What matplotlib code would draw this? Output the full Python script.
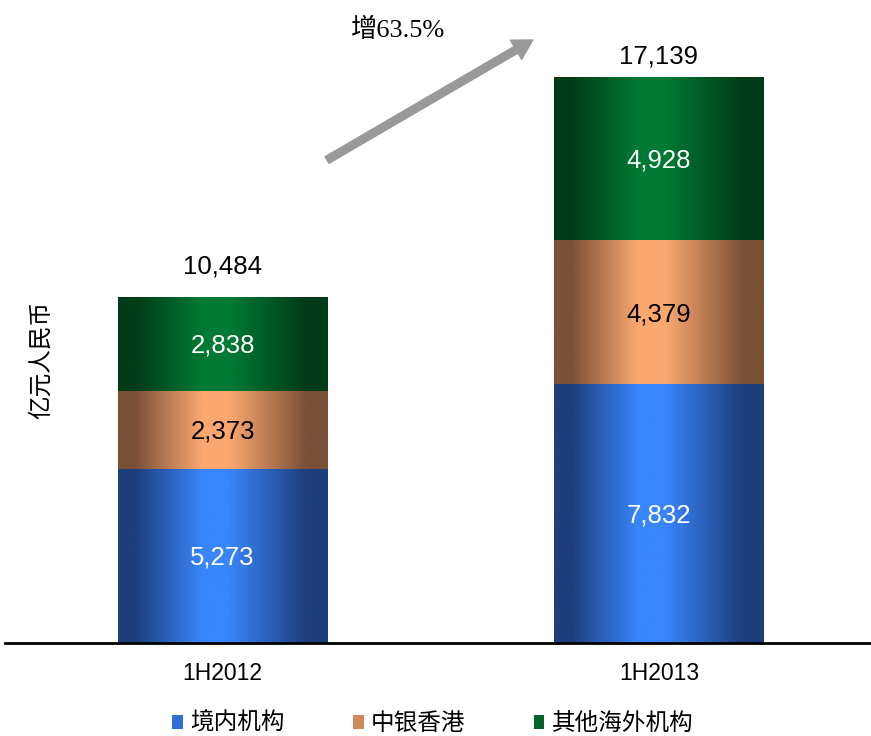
import matplotlib
matplotlib.use("Agg")
import matplotlib.pyplot as plt
import numpy as np
from matplotlib.colors import LinearSegmentedColormap
from matplotlib.patches import Rectangle

plt.rcParams["font.family"] = ["Liberation Sans", "Noto Sans CJK SC", "DejaVu Sans"]

periods = ["1H2012", "1H2013"]
series_names = ["境内机构", "中银香港", "其他海外机构"]
domestic = [5273, 7832]
bochk = [2373, 4379]
overseas = [2838, 4928]
totals = [10484, 17139]
growth_label = "增63.5%"
y_label = "亿元人民币"

series_values = [domestic, bochk, overseas]
dark_colors = ["#1d3e7b", "#7a5037", "#003b17"]
bright_colors = ["#3985fb", "#fba870", "#007a34"]
legend_colors = ["#2f6fd6", "#d08a5a", "#006429"]
label_colors = ["white", "black", "white"]

fig = plt.figure(figsize=(8.71, 7.36), dpi=100)
ax = fig.add_axes([0.006, 1 - 643 / 736, 0.994, 643 / 736])

x = np.arange(len(periods))
width = 0.479
grad = np.linspace(0, 1, 256).reshape(1, -1)

bottoms = np.zeros(len(periods))
for values, dark, bright, tc in zip(series_values, dark_colors, bright_colors, label_colors):
    cmap = LinearSegmentedColormap.from_list(
        "g", [(0, dark), (0.08, dark), (0.4, bright), (0.53, bright), (0.9, dark), (1, dark)]
    )
    for xi, v, b in zip(x, values, bottoms):
        ax.imshow(grad, cmap=cmap, aspect="auto", interpolation="bilinear",
                  extent=[xi - width / 2, xi + width / 2, b, b + v], zorder=2)
        ax.text(xi, b + v / 2 - 60, f"{v:,}", ha="center", va="center",
                color=tc, fontsize=18.5, zorder=3)
    bottoms = bottoms + np.array(values)

for xi, t, off in zip(x, totals, [13, 6]):
    ax.annotate(f"{t:,}", (xi, t), xytext=(0, off), textcoords="offset points",
                ha="center", va="bottom", fontsize=18.5)

ax.set_xlim(-0.498, 1.486)
ax.set_ylim(0, 643 / 0.03302)

ax.annotate("", xy=(0.711, 18262), xytext=(width / 2, 14627),
            arrowprops=dict(facecolor="#999999", edgecolor="#999999",
                            width=5.5, headwidth=16, headlength=14, shrink=0))
ax.text(0.402, 18560, growth_label, ha="center", va="center", fontsize=19,
        family=["Liberation Serif", "Noto Sans CJK SC"])

for s in ["top", "right", "left"]:
    ax.spines[s].set_visible(False)
ax.spines["bottom"].set_linewidth(2)
ax.set_yticks([])
ax.set_xticks(x, periods)
ax.tick_params(axis="x", length=0, pad=14, labelsize=16.5)

handles = [Rectangle((0, 0), 1, 1, facecolor=c, edgecolor="none") for c in legend_colors]
fig.legend(handles, series_names, loc="center", bbox_to_anchor=(0.497, 0.017), ncol=3,
           frameon=False, prop={"family": "Noto Sans CJK SC", "size": 17},
           handlelength=0.45, handleheight=0.55, handletextpad=0.3, columnspacing=2.9)

fig.text(41 / 871, 0.511, y_label, rotation=90, ha="center", va="center",
         fontsize=17, family="Noto Sans CJK SC")

fig.savefig("out.png", dpi=100)
